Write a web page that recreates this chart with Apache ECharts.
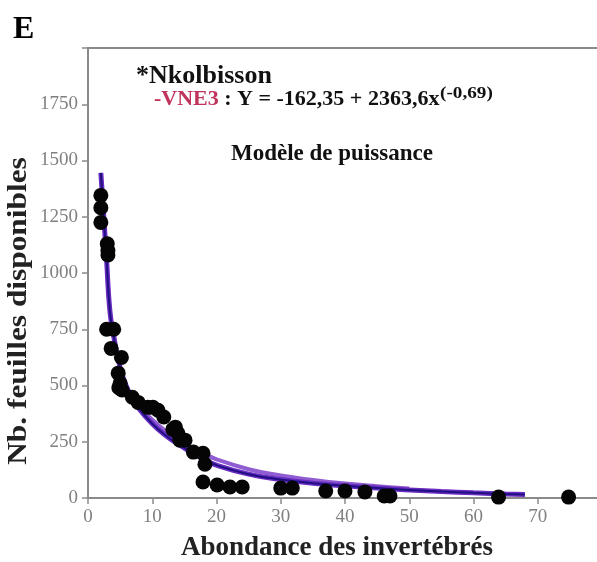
<!DOCTYPE html>
<html>
<head>
<meta charset="utf-8">
<script src="https://cdn.jsdelivr.net/npm/echarts@6/dist/echarts.min.js"></script>
<style>
html,body{margin:0;padding:0;background:#fff;}
#chart{width:597px;height:562px;}
</style>
</head>
<body>
<div id="chart"></div>
<script>
// Observed points: abundance of invertebrates (x) vs available leaves (y)
const obsX = [2.0, 2.0, 2.0, 3.0, 3.1, 3.1, 2.9, 4.0, 3.6, 5.2, 4.7, 5.0, 5.3, 4.8, 6.9, 7.8, 9.3, 10.1, 10.9, 11.8, 13.2, 13.6, 14.0, 14.3, 15.1, 16.4, 17.9, 18.2, 17.9, 20.1, 22.1, 24.0, 30.0, 31.8, 37.0, 40.0, 43.1, 46.1, 47.0, 63.9, 74.8];
const obsY = [1345, 1290, 1225, 1130, 1100, 1080, 750, 750, 665, 625, 555, 510, 480, 490, 448, 425, 403, 403, 390, 360, 305, 315, 288, 257, 257, 204, 199, 150, 71, 58, 49, 49, 44, 44, 31, 31, 27, 9, 9, 4, 4];

// Fitted power-model curve
const fitX = [2.0, 2.5, 2.9, 3.4, 4, 5, 6, 7, 8, 10, 12, 14, 16, 18, 20, 25, 30, 35, 40, 45, 50, 55, 60, 65, 68];
const fitY = [1445, 1230, 1055, 833, 720, 580, 495, 440, 395, 330, 280, 240, 205, 172, 146, 106, 82, 66, 54, 44, 36, 29, 23, 18, 16];
// Upper purple band line
const bandX = [8, 10, 12, 14, 16, 18, 20, 25, 30, 35, 40, 45, 50];
const bandY = [405, 348, 300, 262, 228, 198, 172, 128, 100, 80, 64, 52, 42];

const xTicks = [0, 10, 20, 30, 40, 50, 60, 70];
const yTicks = [0, 250, 500, 750, 1000, 1250, 1500, 1750];

const serif = '"Liberation Serif", "DejaVu Serif", serif';
const chart = echarts.init(document.getElementById('chart'));

const pts = obsX.map((x, i) => [x, obsY[i]]);
const fit = fitX.map((x, i) => [x, fitY[i]]);
const band = bandX.map((x, i) => [x, bandY[i]]);

chart.setOption({
  animation: false,
  backgroundColor: '#fff',
  grid: {left: 88, top: 48, width: 514, height: 450, show: true, borderColor: '#8a8a8a', borderWidth: 2,
         backgroundColor: '#fff', containLabel: false, outerBoundsMode: 'none'},
  xAxis: {
    type: 'value', min: 0, max: 80, interval: 10,
    axisLine: {show: true, lineStyle: {color: '#8a8a8a', width: 2}},
    axisTick: {show: true, length: 6, lineStyle: {color: '#8a8a8a', width: 1.5}},
    splitLine: {show: false},
    axisLabel: {color: '#808080', fontFamily: serif, fontSize: 19, margin: 10,
      formatter: v => xTicks.indexOf(v) >= 0 ? String(v) : ''}
  },
  yAxis: {
    type: 'value', min: 0, max: 2000, interval: 250,
    axisLine: {show: true, lineStyle: {color: '#8a8a8a', width: 2}},
    axisTick: {show: true, length: 6, lineStyle: {color: '#8a8a8a', width: 1.5}},
    splitLine: {show: false},
    axisLabel: {color: '#808080', fontFamily: serif, fontSize: 19, margin: 10,
      formatter: v => yTicks.indexOf(v) >= 0 ? String(v) : ''}
  },
  series: [
    {type: 'line', data: band, smooth: true, showSymbol: false, z: 2,
     lineStyle: {color: '#7b3fc9', width: 4, opacity: 0.85}},
    {type: 'line', data: fit, smooth: true, showSymbol: false, z: 3,
     lineStyle: {color: '#6a2cc0', width: 5}},
    {type: 'line', data: fit, smooth: true, showSymbol: false, z: 4,
     lineStyle: {color: '#1e1082', width: 2}},
    {type: 'scatter', data: pts, symbol: 'circle', symbolSize: 15, z: 5,
     itemStyle: {color: '#050505', opacity: 1}}
  ],
  graphic: [
    {type: 'text', left: 13, top: 14, style: {text: 'E', font: 'bold 32px ' + serif, fill: '#000'}},
    {type: 'text', left: 136, top: 63, style: {text: '*Nkolbisson', font: 'bold 26px ' + serif, fill: '#111'}},
    {type: 'text', left: 154, top: 88, style: {
      text: '{r|-VNE3}{b| : Y = -162,35 + 2363,6x}',
      rich: {
        r: {fontFamily: serif, fontSize: 22, fontWeight: 'bold', fill: '#c0345c'},
        b: {fontFamily: serif, fontSize: 22, fontWeight: 'bold', fill: '#111'}
      }
    }},
    {type: 'text', left: 440, top: 86, scaleX: 1.2, style: {text: '(-0,69)', font: 'bold 16px ' + serif, fill: '#111'}},
    {type: 'text', left: 231, top: 143, style: {text: 'Modèle de puissance', font: 'bold 23px ' + serif, fill: '#111'}},
    {type: 'text', x: 19, y: 311, rotation: Math.PI / 2, scaleX: 1.12, style: {text: 'Nb. feuilles disponibles', font: 'bold 28px ' + serif, fill: '#222', align: 'center', verticalAlign: 'middle'}},
    {type: 'text', x: 337, y: 548, style: {text: 'Abondance des invertébrés', font: 'bold 27px ' + serif, fill: '#222', align: 'center', verticalAlign: 'middle'}}
  ]
});
</script>
</body>
</html>
